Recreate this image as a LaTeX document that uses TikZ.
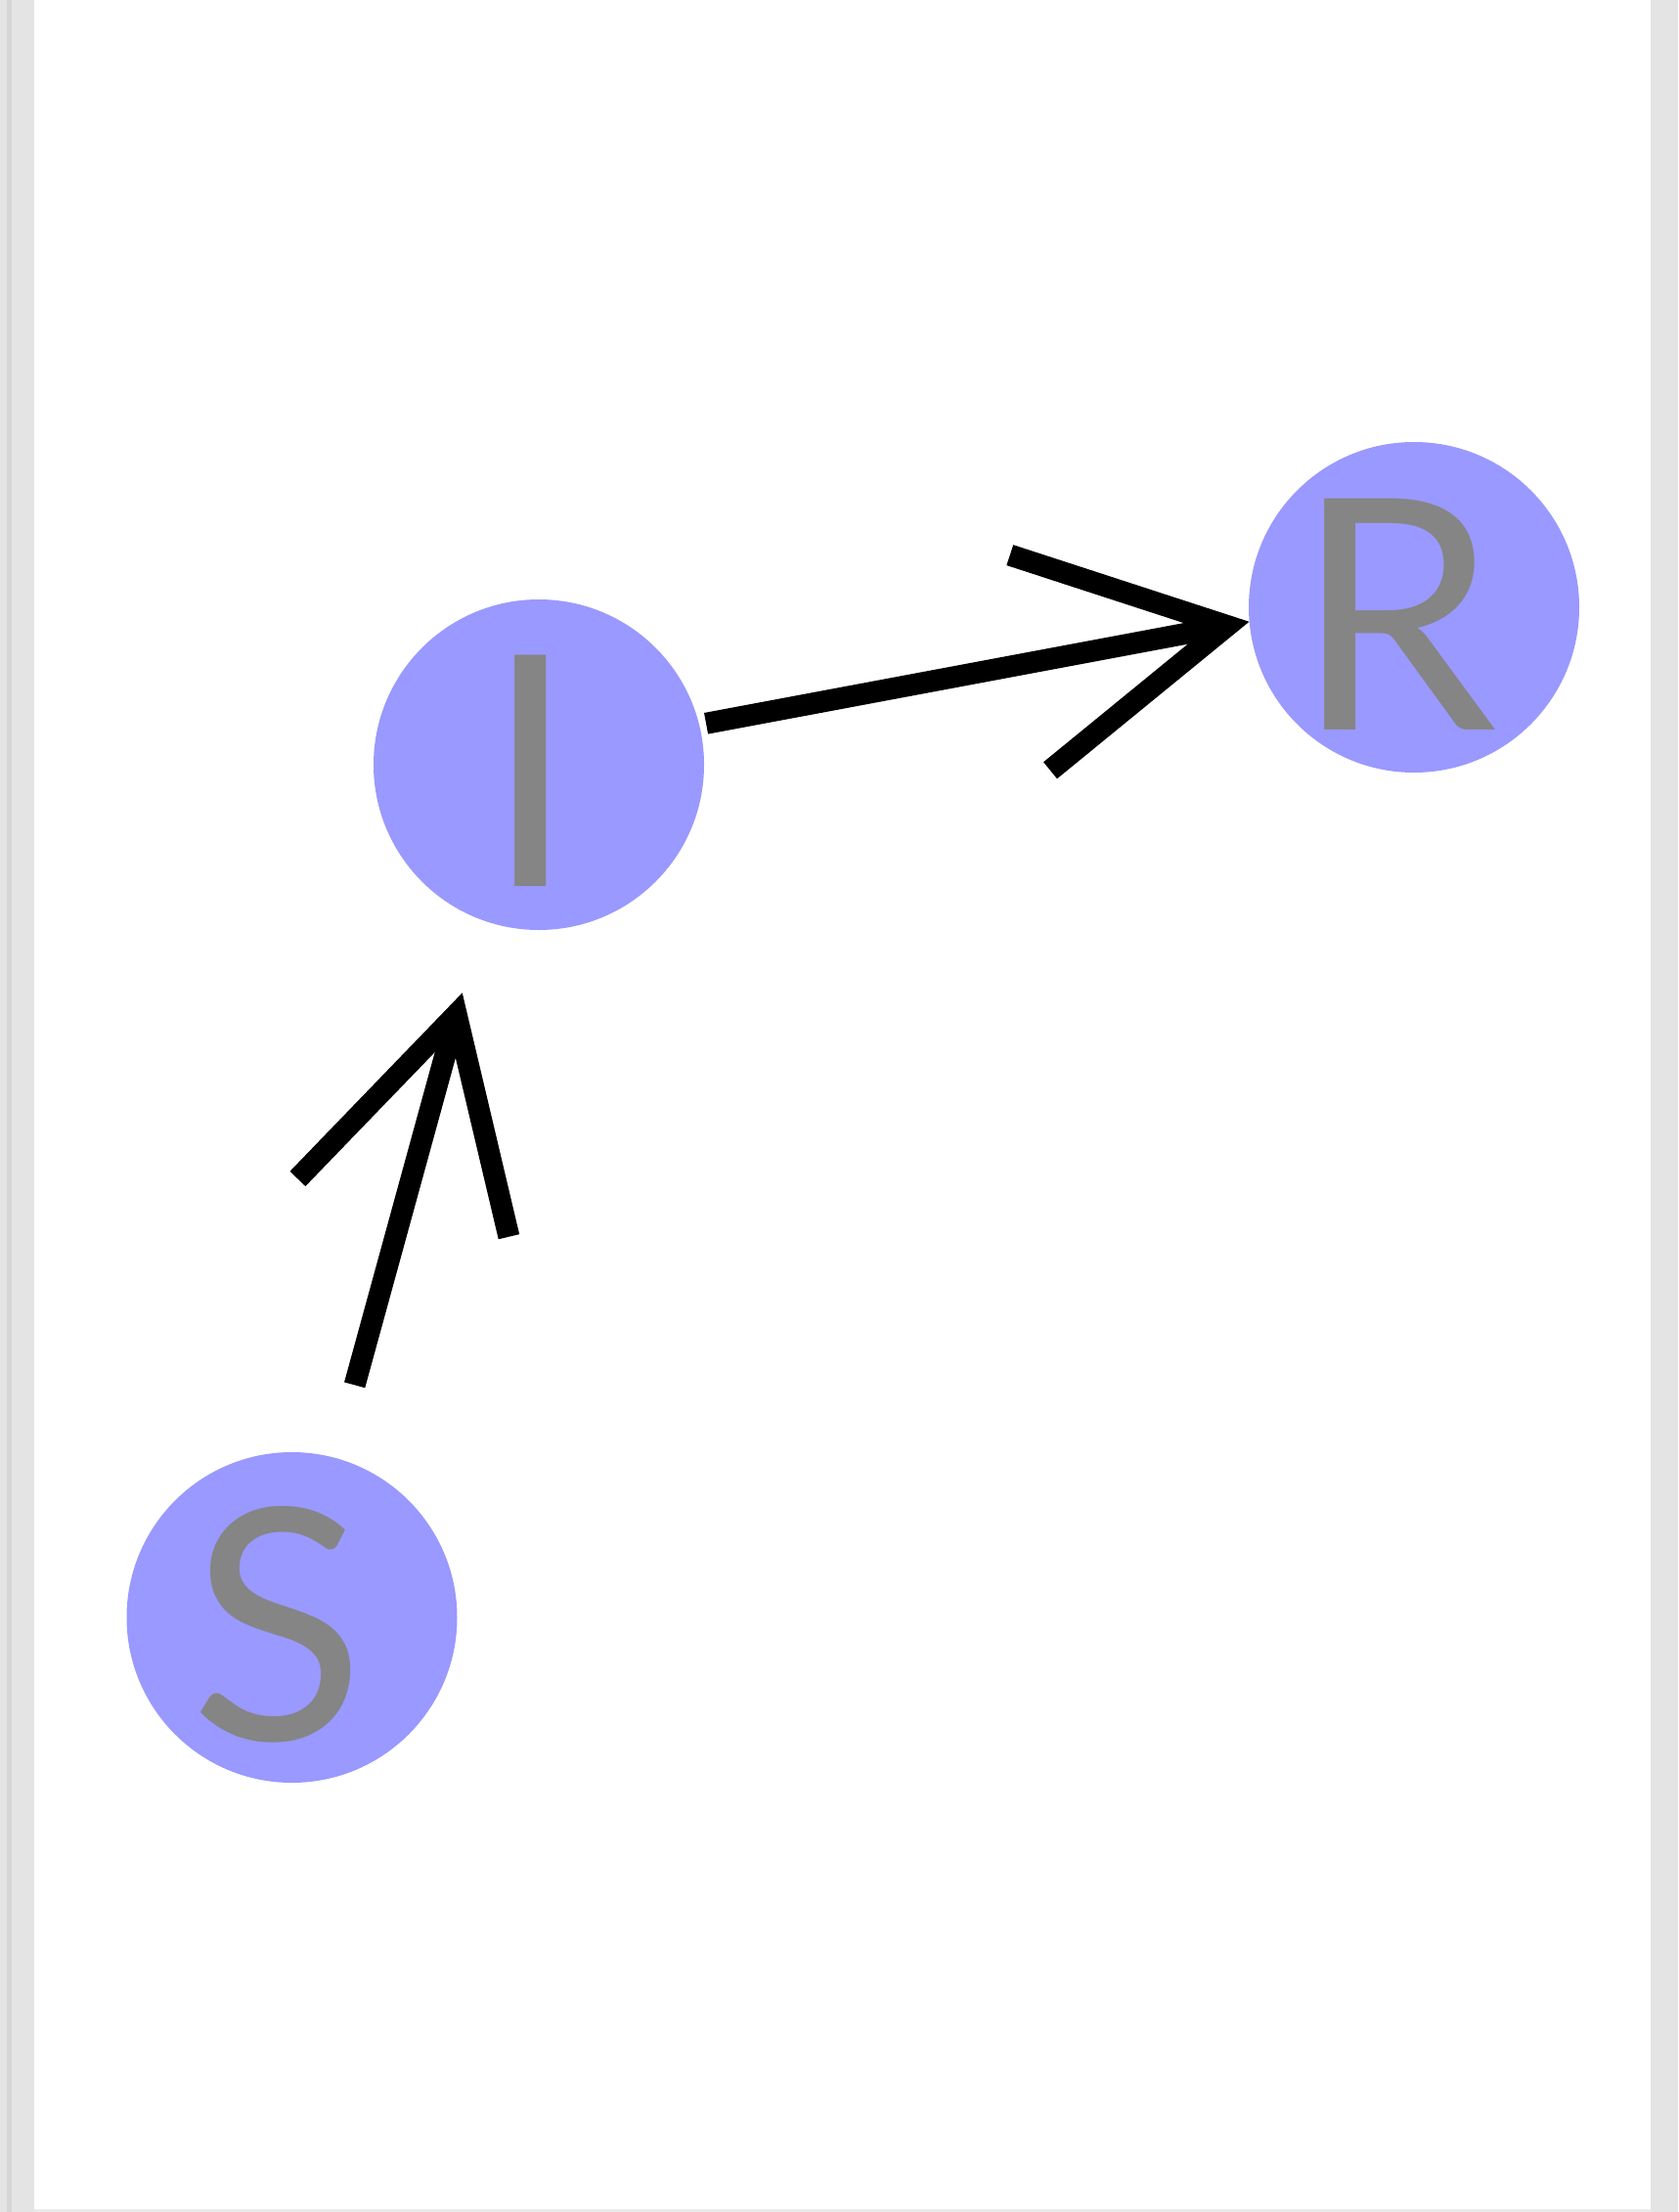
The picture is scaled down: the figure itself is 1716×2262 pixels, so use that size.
\documentclass[tikz,border=0pt]{standalone}
\usepackage{fontspec}
\setmainfont{Lato}
\usetikzlibrary{arrows.meta}
\definecolor{nodefill}{HTML}{9999FF}
\definecolor{lettergray}{HTML}{858585}
\definecolor{framegray}{HTML}{E4E4E4}
\begin{document}
\begin{tikzpicture}[x=1pt,y=-1pt,
  state/.style={circle,fill=nodefill,draw=none,minimum size=338pt,inner sep=0pt},
  letter/.style={text=lettergray,inner sep=0pt,font=\fontsize{330}{330}\selectfont},
  conn/.style={line width=22pt,line cap=butt,-{Straight Barb[sharp,length=205pt,width=224pt]}}]
  \useasboundingbox (0,0) rectangle (1716,2262);
  \fill[white] (0,0) rectangle (1716,2262);
  \fill[framegray] (0,0) rectangle (35,2262);
  \fill[black!16] (7,0) rectangle (12,2262);
  \fill[framegray] (1688,0) rectangle (1716,2262);
  \fill[black!8] (35,2259) rectangle (1688,2262);
  \node[state] (I) at (551,782) {};
  \node[state] (R) at (1446,621) {};
  \node[state] (S) at (298.5,1654) {};
  \node[letter] (Il) at (542.5,788) {I};
  \node[letter] (Rl) at (1428,628) {R};
  \node[letter] (Sl) at (284,1661) {S};
  \draw[conn,shorten <=7pt] (I.14) -- (R.185);
  \draw[conn,shorten <=77pt,shorten >=77pt] (S.75) -- (I.250);
\end{tikzpicture}
\end{document}
